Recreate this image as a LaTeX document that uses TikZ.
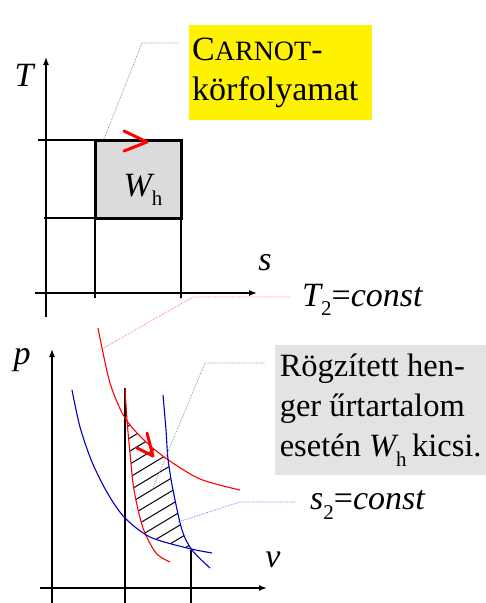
\documentclass[tikz,border=0pt]{standalone}
\usepackage{fontspec}
\setmainfont{Liberation Serif}
\usetikzlibrary{arrows.meta,positioning,calc}

\newcommand{\lowidx}[1]{\raisebox{-0.28em}{\fontsize{21}{21}\selectfont #1}}

\begin{document}
\begin{tikzpicture}[
  x=1pt, y=-1pt,
  every node/.style={inner sep=0pt},
  bigtext/.style={font=\fontsize{34}{40}\selectfont},
  axlabel/.style={font=\fontsize{34}{40}\selectfont\itshape},
  axis/.style={line width=1.5pt, -{Latex[length=8pt,width=6pt]}},
  gridline/.style={line width=1.2pt},
  cyclebox/.style={line width=3pt, fill=gray!28},
  turn/.style={red, line width=3pt, line cap=round, line join=round},
  isotherm/.style={red, line width=1.1pt},
  adiabat/.style={blue!75!black, line width=1.1pt},
  leader/.style={gray, densely dotted, line width=0.7pt},
  noteline/.style={bigtext, align=left, anchor=west},
]
\useasboundingbox (0,0) rectangle (486,603);

% T-s diagram
\draw[gridline] (38,140) -- (95,140);
\draw[gridline] (44,218) -- (95,218);
\draw[gridline] (95,218) -- (95,298);
\draw[gridline] (181,218) -- (181,298);
\draw[axis] (46,317) -- (46,57);
\draw[axis] (35,293) -- (257,293);
\draw[cyclebox] (95,140) rectangle (181,218);
\draw[turn] (124,131) -- (147,142) -- (124,151);

\node[axlabel] (tlab) at (24,75) {T};
\node[axlabel] (slab) at (265,263) {s};
\node[bigtext] (wtop) at (143,190) {\itshape W\upshape\lowidx{h}};

\node[bigtext, fill=yellow, anchor=north west, align=left,
      text width=177pt, inner xsep=3pt, minimum height=95pt] (carnot) at (189,25)
  {C{\fontsize{28}{28}\selectfont ARNOT}-\\körfolyamat};

\coordinate (corner) at (104,139);
\coordinate (carnotknee) at (142,43);
\coordinate (carnotend) at (178,43);
\draw[leader] (corner) -- (carnotknee) -- (carnotend);

% p-v diagram
\def\redone{(98,328) (110,383) (125,418) (145,441) (167,459) (200,479) (240,490)}
\def\redtwo{(125,388) (127,420) (130,453) (134,490) (143,528) (156,553) (170,562)}
\def\blueone{(72,390) (80,427) (92,462) (108,494) (125,518) (150,537) (187,548) (212,553)}
\def\bluetwo{(163,395) (166,430) (168,459) (173,490) (182,530) (192,550) (210,568)}

\begin{scope}
  \clip plot[smooth] coordinates {\redone} -- (240,603) -- (98,603) -- cycle;
  \clip plot[smooth] coordinates {\redtwo} -- (300,562) -- (300,388) -- cycle;
  \clip plot[smooth] coordinates {\bluetwo} -- (0,568) -- (0,395) -- cycle;
  \clip plot[smooth] coordinates {\blueone} -- (212,300) -- (72,300) -- cycle;
  \foreach \y in {424,437,...,620}{
    \draw[line width=1pt] (110,\y) -- (220,\y-66);
  }
\end{scope}

\draw[gridline] (125,388) -- (125,603);
\draw[gridline] (191,550) -- (191,603);
\draw[axis] (52,603) -- (52,349);
\draw[axis] (40,588) -- (267,588);

\draw[isotherm] plot[smooth] coordinates {\redone};
\draw[isotherm] plot[smooth] coordinates {\redtwo};
\draw[adiabat] plot[smooth] coordinates {\blueone};
\draw[adiabat] plot[smooth] coordinates {\bluetwo};
\draw[turn] (147,433) -- (153,456) -- (137,448);

\node[axlabel] (plab) at (22,360) {p};
\node[axlabel] (vlab) at (273,560) {v};

\node[noteline] (tconst) at (302,300)
  {\itshape T\upshape\lowidx{2}=\itshape const};
\node[noteline] (sconst) at (310,505)
  {\itshape s\upshape\lowidx{2}=\itshape const};

\node[font=\fontsize{32.5}{40}\selectfont, fill=gray!22, anchor=north west, align=left,
      inner xsep=4pt, minimum width=211pt, minimum height=130pt] (fixed) at (275,345)
  {Rögzített hen-\\ger űrtartalom\\esetén \itshape W\upshape\lowidx{h}\,kicsi.};

\coordinate (redfoot) at (100,350);
\coordinate (redknee) at (193,297);
\coordinate (redend) at (290,297);
\draw[leader, red!60] (redfoot) -- (redknee) -- (redend);

\coordinate (hatchfoot) at (152,490);
\coordinate (hatchknee) at (205,363);
\coordinate (hatchend) at (265,363);
\draw[leader] (hatchfoot) -- (hatchknee) -- (hatchend);

\coordinate (bluefoot) at (178,522);
\coordinate (blueknee) at (240,502);
\coordinate (blueend) at (296,502);
\draw[leader, blue!60] (bluefoot) -- (blueknee) -- (blueend);
\end{tikzpicture}
\end{document}
